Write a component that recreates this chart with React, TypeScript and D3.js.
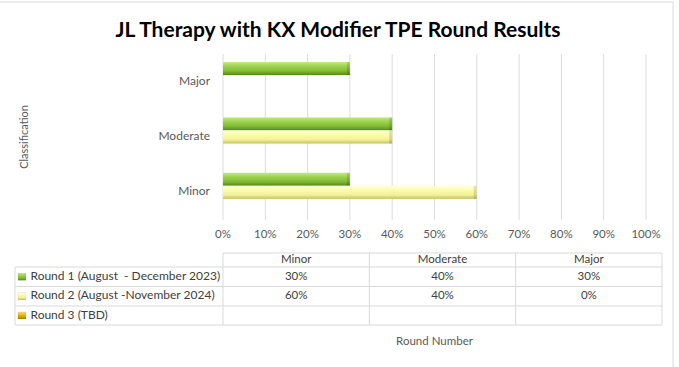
import React from 'react'
import * as d3 from 'd3'

const WIDTH = 679
const HEIGHT = 367

const categories = ['Minor', 'Moderate', 'Major']
const seriesNames = [
  'Round 1 (August  - December 2023)',
  'Round 2 (August -November 2024)',
  'Round 3 (TBD)',
]
const round1 = [30, 40, 30]
const round2 = [60, 40, 0]
const round3: (number | null)[] = [null, null, null]
const xTicks = [0, 10, 20, 30, 40, 50, 60, 70, 80, 90, 100]

const seriesValues = [round1, round2, round3]
const seriesGrad = ['gGreen', 'gYellow', 'gGold']

const FONT = 'Lato, "Open Sans", sans-serif'
const PLOT_LEFT = 223
const PLOT_RIGHT = 646
const PLOT_TOP = 54
const PLOT_BOTTOM = 220
const TABLE_RIGHT = 662
const LEGEND_LEFT = 15

export default function App() {
  const x = d3.scaleLinear().domain([0, 100]).range([PLOT_LEFT, PLOT_RIGHT])

  const y = d3.scaleBand()
    .domain([...categories].reverse())
    .range([PLOT_TOP, PLOT_BOTTOM])
    .paddingInner(0.29)
    .paddingOuter(0.145)

  const inner = d3.scaleBand<number>()
    .domain(seriesNames.map((_, i) => i))
    .range([0, y.bandwidth()])

  const col = d3.scaleBand()
    .domain(categories)
    .range([PLOT_LEFT, TABLE_RIGHT])

  // table rows: header then one per series
  const rowTops = [253, 267, 286.5, 306, 325]

  return (
    <svg width={WIDTH} height={HEIGHT}
      style={{ position: 'absolute', left: 0, top: 0, background: '#fff' }}
      fontFamily={FONT}>
      <defs>
        <linearGradient id="gGreen" x1="0" y1="0" x2="0" y2="1">
          <stop offset="0" stopColor="#c4ea8c" />
          <stop offset="0.3" stopColor="#9ed450" />
          <stop offset="0.65" stopColor="#84be36" />
          <stop offset="1" stopColor="#56881e" />
        </linearGradient>
        <linearGradient id="gYellow" x1="0" y1="0" x2="0" y2="1">
          <stop offset="0" stopColor="#ffffd8" />
          <stop offset="0.3" stopColor="#fcfcb0" />
          <stop offset="0.7" stopColor="#f2f294" />
          <stop offset="1" stopColor="#c4c070" />
        </linearGradient>
        <linearGradient id="gGold" x1="0" y1="0" x2="0" y2="1">
          <stop offset="0" stopColor="#ffe070" />
          <stop offset="0.5" stopColor="#e0b400" />
          <stop offset="1" stopColor="#a88200" />
        </linearGradient>
      </defs>

      <rect x={-1} y={2} width={674} height={HEIGHT + 5} fill="#fff" stroke="#d9d9d9" />

      <text x={338} y={32} textAnchor="middle" dominantBaseline="middle"
        fontSize={21} fontWeight="bold" fill="#000">
        JL Therapy with KX Modifier TPE Round Results
      </text>

      {/* grid */}
      {xTicks.map(t => (
        <line key={t} x1={x(t)} x2={x(t)} y1={PLOT_TOP} y2={PLOT_BOTTOM}
          stroke="#dcdcdc" strokeWidth={1} />
      ))}

      {/* bars */}
      {categories.map((c, ci) => (
        <g key={c}>
          {seriesValues.map((vals, si) => {
            const v = vals[ci]
            if (v == null || v === 0) return null
            const by = (y(c) ?? 0) + (inner(si) ?? 0)
            const bh = inner.bandwidth()
            const w = x(v) - x(0)
            return (
              <g key={si}>
                <rect x={x(0)} y={by} width={w} height={bh} fill={`url(#${seriesGrad[si]})`} />
                <rect x={x(0) + w - 3} y={by} width={3} height={bh} fill="#000" opacity={0.12} />
              </g>
            )
          })}
          <text x={210} y={(y(c) ?? 0) + y.bandwidth() / 2} textAnchor="end"
            dominantBaseline="middle" fontSize={12} fill="#595959">{c}</text>
        </g>
      ))}

      {/* x tick labels */}
      {xTicks.map(t => (
        <text key={t} x={x(t)} y={235} textAnchor="middle" dominantBaseline="middle"
          fontSize={11.5} fill="#595959">{t}%</text>
      ))}

      {/* axis titles */}
      <text transform={`translate(25,${(PLOT_TOP + PLOT_BOTTOM) / 2}) rotate(-90)`}
        textAnchor="middle" dominantBaseline="middle" fontSize={11} fill="#595959">
        Classification
      </text>
      <text x={(PLOT_LEFT + PLOT_RIGHT) / 2} y={342} textAnchor="middle"
        dominantBaseline="middle" fontSize={11.5} fill="#595959">Round Number</text>

      {/* data table */}
      <g stroke="#d9d9d9" strokeWidth={1} fill="none">
        <line x1={PLOT_LEFT} x2={TABLE_RIGHT} y1={rowTops[0]} y2={rowTops[0]} />
        {rowTops.slice(1).map((ry, i) => (
          <line key={i} x1={LEGEND_LEFT} x2={TABLE_RIGHT} y1={ry} y2={ry} />
        ))}
        <line x1={LEGEND_LEFT} x2={LEGEND_LEFT} y1={rowTops[1]} y2={rowTops[4]} />
        {categories.map(c => (
          <line key={c} x1={col(c)} x2={col(c)} y1={rowTops[0]} y2={rowTops[4]} />
        ))}
        <line x1={TABLE_RIGHT} x2={TABLE_RIGHT} y1={rowTops[0]} y2={rowTops[4]} />
      </g>
      {categories.map(c => (
        <text key={c} x={(col(c) ?? 0) + col.bandwidth() / 2} y={(rowTops[0] + rowTops[1]) / 2 + 0.5}
          textAnchor="middle" dominantBaseline="middle" fontSize={11.5} fill="#404040">{c}</text>
      ))}
      {seriesNames.map((name, si) => {
        const cy = (rowTops[si + 1] + rowTops[si + 2]) / 2
        return (
          <g key={name}>
            <rect x={18} y={cy - 3.5} width={8} height={7} fill={`url(#${seriesGrad[si]})`}
              stroke="#00000022" strokeWidth={0.5} />
            <text x={30.5} y={cy} dominantBaseline="middle" fontSize={12} fill="#404040"
              style={{ whiteSpace: 'pre' }}>{name}</text>
            {categories.map((c, ci) => {
              const v = seriesValues[si][ci]
              return v == null ? null : (
                <text key={c} x={(col(c) ?? 0) + col.bandwidth() / 2} y={cy}
                  textAnchor="middle" dominantBaseline="middle" fontSize={11.5} fill="#404040">{v}%</text>
              )
            })}
          </g>
        )
      })}
    </svg>
  )
}
